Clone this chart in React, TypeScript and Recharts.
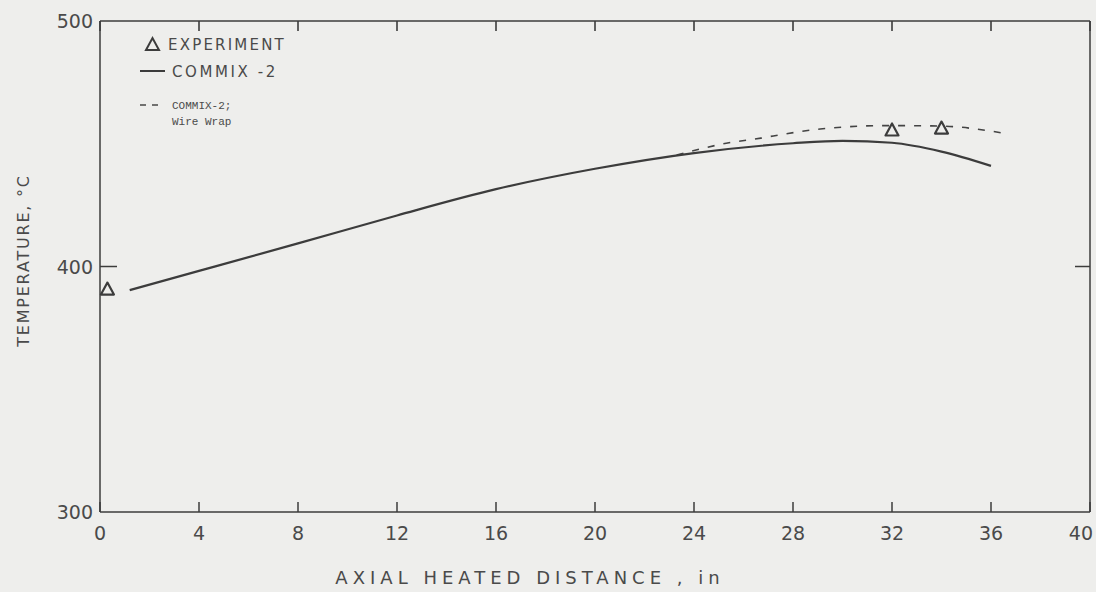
import React from 'react';
import { ComposedChart, Line, Scatter, XAxis, YAxis, Legend, Label } from 'recharts';

// ---- data ----
const xTicks = [0, 4, 8, 12, 16, 20, 24, 28, 32, 36, 40];
const xDomain = [0, 40];
const yTicks = [300, 400, 500];
const yInnerTicks = [400];

const experimentX = [0.3, 32, 34];
const experimentT = [390.8, 455.6, 456.4];

const commixX = [1.2, 4, 8, 12, 16, 20, 24, 28, 30, 32, 34, 36];
const commixT = [390.4, 398.2, 409.4, 420.8, 431.5, 439.8, 446.2, 450.2, 451.2, 450.4, 446.8, 441];

const wireWrapX = [23.3, 25.3, 26.7, 27.8, 29.1, 31.8, 34, 36.4];
const wireWrapT = [445.4, 450.2, 452.3, 454.2, 456, 457.4, 457.2, 454.5];

const experimentData = experimentX.map((x, i) => ({ x, t: experimentT[i] }));
const commixData = commixX.map((x, i) => ({ x, t: commixT[i] }));
const wireWrapData = wireWrapX.map((x, i) => ({ x, t: wireWrapT[i] }));

// ---- layout ----
const W = 1096;
const H = 592;
const M_TOP = 20;
const M_RIGHT = 5;
const Y_AXIS_W = 100;
const PLOT_RIGHT = W - M_RIGHT - 1;
const TOP_TICK = 10;

const INK = '#3c3c3c';
const TXT = '#4a4a4a';
const FONT = '"DejaVu Sans", sans-serif';
const MONO = '"Liberation Mono", monospace';

const frac = (v: number) => (v - xDomain[0]) / (xDomain[1] - xDomain[0]);

const BottomTick = (props: any) => {
  const { x, y, payload, index, visibleTicksCount } = props;
  const last = index === (visibleTicksCount ?? xTicks.length) - 1;
  return (
    <g>
      <line x1={x} x2={x} y1={y} y2={y - 10} stroke={INK} strokeWidth={1.5} />
      <text
        x={last ? x + 3 : x}
        y={y + 28}
        textAnchor={last ? 'end' : 'middle'}
        fontFamily={FONT}
        fontSize={19}
        fill={TXT}
      >
        {payload.value}
      </text>
    </g>
  );
};

const LeftTick = (props: any) => {
  const { x, y, payload } = props;
  const inner = yInnerTicks.includes(payload.value);
  const isTop = payload.value === yTicks[yTicks.length - 1];
  const span = PLOT_RIGHT - x;
  return (
    <g>
      {inner && <line x1={x} x2={x + 17} y1={y} y2={y} stroke={INK} strokeWidth={1.5} />}
      {inner && <line x1={PLOT_RIGHT} x2={PLOT_RIGHT - 15} y1={y} y2={y} stroke={INK} strokeWidth={1.5} />}
      {isTop &&
        xTicks.map((v) => {
          const px = x + frac(v) * span;
          return <line key={v} x1={px} x2={px} y1={y} y2={y + TOP_TICK} stroke={INK} strokeWidth={1.6} />;
        })}
      <text x={x - 7} y={y + 7} textAnchor="end" fontFamily={FONT} fontSize={19} fill={TXT}>
        {payload.value}
      </text>
    </g>
  );
};

const Triangle = (props: any) => {
  const { cx, cy } = props;
  if (cx == null || cy == null) return null;
  return (
    <polygon
      points={`${cx - 6.5},${cy + 5.5} ${cx + 6.5},${cy + 5.5} ${cx},${cy - 6.5}`}
      fill="none"
      stroke={INK}
      strokeWidth={2.2}
      strokeLinejoin="round"
    />
  );
};

// legend drawn at page offset (130, 30)
const LegendBox = () => (
  <svg width={200} height={110} style={{ overflow: 'visible', display: 'block' }}>
    <polygon points="16,20 29,20 22.5,8" fill="none" stroke={INK} strokeWidth={2} />
    <text x={38} y={20} fontFamily={FONT} fontSize={15} letterSpacing={2.2} fill={TXT}>EXPERIMENT</text>
    <line x1={10} x2={35} y1={41} y2={41} stroke={INK} strokeWidth={2} />
    <text x={42} y={47} fontFamily={FONT} fontSize={15} letterSpacing={2.6} fill={TXT}>COMMIX -2</text>
    <line x1={10} x2={16} y1={75} y2={75} stroke={INK} strokeWidth={1.4} />
    <line x1={22} x2={28} y1={75} y2={75} stroke={INK} strokeWidth={1.4} />
    <text x={42} y={79} fontFamily={MONO} fontSize={11} fill={TXT}>COMMIX-2;</text>
    <text x={42} y={95} fontFamily={MONO} fontSize={11} fill={TXT}>Wire Wrap</text>
  </svg>
);

const YTitle = (props: any) => {
  const vb = props.viewBox || {};
  const cx = (vb.x ?? 0) + 23;
  const cy = (vb.y ?? 0) + (vb.height ?? 0) / 2 - 6;
  return (
    <text
      x={cx}
      y={cy}
      transform={`rotate(-90 ${cx} ${cy})`}
      textAnchor="middle"
      dominantBaseline="central"
      fontFamily={FONT}
      fontSize={16}
      letterSpacing={1.8}
      fill={TXT}
    >
      TEMPERATURE, °C
    </text>
  );
};

const XTitle = (props: any) => {
  const vb = props.viewBox || {};
  const cx = (vb.x ?? 0) + (vb.width ?? 0) / 2 - 65;
  const cy = (vb.y ?? 0) + 72;
  return (
    <text x={cx} y={cy} textAnchor="middle" fontFamily={FONT} fontSize={18} letterSpacing={5} fill={TXT}>
      AXIAL  HEATED DISTANCE , in
    </text>
  );
};

export default function App() {
  return (
    <div style={{ position: 'absolute', left: 0, top: 0, width: W, height: H, background: '#eeeeec' }}>
      <ComposedChart width={W} height={H} margin={{ top: M_TOP, right: M_RIGHT, bottom: 0, left: 0 }}>
        <XAxis
          dataKey="x"
          type="number"
          domain={xDomain}
          ticks={xTicks}
          height={80}
          tickSize={0}
          tickMargin={0}
          tickLine={false}
          tick={<BottomTick />}
          axisLine={{ stroke: INK, strokeWidth: 1.5 }}
          interval={0}
        >
          <Label content={<XTitle />} />
        </XAxis>
        <XAxis
          xAxisId="top"
          orientation="top"
          dataKey="x"
          type="number"
          domain={xDomain}
          ticks={xTicks}
          height={1}
          tickLine={false}
          tick={false}
          axisLine={{ stroke: INK, strokeWidth: 1.5 }}
        />
        <YAxis
          dataKey="t"
          type="number"
          domain={[300, 500]}
          ticks={yTicks}
          width={Y_AXIS_W}
          tickSize={0}
          tickMargin={0}
          tickLine={false}
          tick={<LeftTick />}
          axisLine={{ stroke: INK, strokeWidth: 1.5 }}
          interval={0}
        >
          <Label content={<YTitle />} />
        </YAxis>
        <YAxis
          yAxisId="right"
          orientation="right"
          dataKey="t"
          type="number"
          domain={[300, 500]}
          ticks={yInnerTicks}
          width={1}
          tickLine={false}
          tick={false}
          axisLine={{ stroke: INK, strokeWidth: 1.5 }}
        />
        <Legend
          layout="vertical"
          align="center"
          verticalAlign="middle"
          content={() => <LegendBox />}
          wrapperStyle={{ left: 130, top: 30, width: 200, height: 110 }}
        />
        <Line
          data={wireWrapData}
          dataKey="t"
          type="monotone"
          stroke="#444"
          strokeWidth={1.6}
          strokeDasharray="7 9"
          dot={false}
          activeDot={false}
          isAnimationActive={false}
        />
        <Line
          data={commixData}
          dataKey="t"
          type="monotone"
          stroke={INK}
          strokeWidth={2.2}
          dot={false}
          activeDot={false}
          isAnimationActive={false}
        />
        <Scatter data={experimentData} dataKey="t" shape={<Triangle />} isAnimationActive={false} />
      </ComposedChart>
    </div>
  );
}
